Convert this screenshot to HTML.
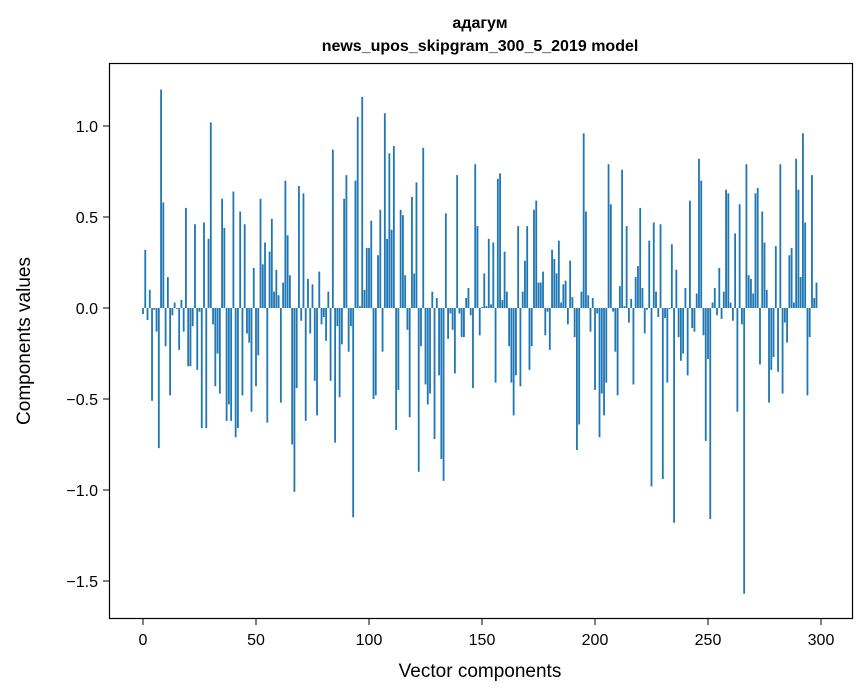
<!DOCTYPE html>
<html><head><meta charset="utf-8"><style>
body{margin:0;background:#fff;}
svg{display:block;font-family:"Liberation Sans","DejaVu Sans",sans-serif;}
</style></head><body>
<svg id="chart" width="867" height="696" viewBox="0 0 867 696">
<rect width="867" height="696" fill="#fff"/>
<text x="480" y="28" text-anchor="middle" font-size="16" font-weight="bold">адагум</text>
<text x="480" y="51" text-anchor="middle" font-size="16" font-weight="bold">news_upos_skipgram_300_5_2019 model</text>
<g id="bars"></g>
<rect x="109.5" y="63.5" width="743" height="555" fill="none" stroke="#000" stroke-width="1.2"/>
<g id="xticks"></g>
<g id="yticks"></g>
<text x="480" y="677" text-anchor="middle" font-size="19">Vector components</text>
<text transform="translate(30,341) rotate(-90)" text-anchor="middle" font-size="19">Components values</text>
</svg>
<script>
const values = [-0.033,0.32,-0.066,0.10,-0.51,-0.01,-0.13,-0.77,1.20,0.58,
-0.21,0.17,-0.48,-0.04,0.03,-0.005,-0.23,0.044,-0.13,0.55,
-0.32,-0.32,-0.10,0.46,-0.34,-0.02,-0.66,0.47,-0.66,0.38,
1.02,-0.09,-0.43,-0.25,-0.47,0.60,0.44,-0.62,-0.53,-0.62,
0.64,-0.71,-0.66,0.53,-0.48,0.46,-0.14,-0.19,-0.57,0.22,
-0.43,-0.26,0.60,0.24,0.36,-0.63,0.31,0.49,0.09,0.21,
0.07,-0.52,0.14,0.70,0.40,0.18,-0.75,-1.01,-0.44,0.67,
-0.07,0.63,-0.62,0.16,-0.14,0.13,-0.40,-0.59,0.20,-0.09,
-0.05,-0.18,0.09,-0.40,0.87,-0.74,-0.10,-0.49,-0.20,0.60,
0.73,-0.24,-0.10,-1.15,0.70,1.05,0.01,1.16,0.10,0.33,
0.33,0.48,-0.50,-0.48,0.29,0.54,-0.24,1.07,0.38,0.85,
0.43,0.89,-0.67,-0.45,0.54,0.51,0.18,-0.12,-0.60,0.61,
0.19,0.69,-0.90,-0.21,0.88,-0.42,-0.53,-0.47,0.09,-0.72,
0.055,-0.37,-0.83,-0.95,0.52,-0.17,-0.03,-0.12,-0.36,0.73,
-0.03,-0.16,-0.16,0.055,0.11,-0.04,-0.44,0.79,0.45,-0.15,
0.005,0.19,0.01,0.38,0.02,0.36,-0.41,0.71,0.74,0.044,
0.31,0.09,-0.21,-0.41,-0.59,-0.37,0.45,-0.43,0.09,0.26,
0.45,-0.34,-0.21,0.54,0.59,0.14,0.14,0.20,-0.15,-0.02,
-0.23,0.32,0.27,0.19,0.37,0.03,0.13,0.15,-0.09,0.26,
0.06,-0.16,-0.78,-0.64,0.09,0.96,0.53,0.07,-0.13,0.055,
-0.45,-0.03,-0.71,-0.47,-0.59,-0.41,0.79,0.57,-0.02,-0.24,
-0.48,0.12,0.76,0.01,0.45,-0.08,0.05,-0.42,0.17,0.23,
0.55,0.11,-0.14,-0.01,0.37,-0.98,0.47,0.09,-0.05,0.46,
-0.94,-0.055,-0.41,-0.005,0.35,-1.18,0.21,-0.16,-0.29,-0.25,
0.11,-0.37,0.59,-0.11,-0.13,0.08,0.82,0.70,-0.15,-0.73,
-0.28,-1.16,0.03,0.11,-0.04,0.22,-0.06,0.09,0.65,0.63,
0.03,-0.07,0.41,-0.57,0.57,-0.09,-1.57,0.79,0.18,0.16,
0.08,0.63,0.66,-0.31,0.53,0.36,0.10,-0.52,-0.34,-0.27,
0.34,-0.35,0.79,-0.47,-0.08,-0.19,0.29,0.33,0.03,0.82,
0.65,0.17,0.96,0.47,-0.48,-0.16,0.73,0.055,0.14];
const xTickValues = [0,50,100,150,200,250,300];
const yTickValues = [-1.5,-1.0,-0.5,0.0,0.5,1.0];
const yTickLabels = ["−1.5","−1.0","−0.5","0.0","0.5","1.0"];

const NS="http://www.w3.org/2000/svg";
function xs(v){return 143+v*2.26;}
function ys(v){return 308-v*182;}
const bw=2.26*0.8;
const bars=document.getElementById('bars');
values.forEach((v,i)=>{
  const r=document.createElementNS(NS,'rect');
  const y0=ys(0),y1=ys(v);
  r.setAttribute('x',xs(i)-bw/2);
  r.setAttribute('y',Math.min(y0,y1));
  r.setAttribute('width',bw);
  r.setAttribute('height',Math.max(Math.abs(y1-y0),0.3));
  r.setAttribute('fill','#1f77b4');
  
  
  bars.appendChild(r);
});
const xg=document.getElementById('xticks');
xTickValues.forEach(v=>{
  const l=document.createElementNS(NS,'line');
  l.setAttribute('x1',xs(v));l.setAttribute('x2',xs(v));
  l.setAttribute('y1',619);l.setAttribute('y2',625);
  l.setAttribute('stroke','#000');
  
  
  xg.appendChild(l);
  const t=document.createElementNS(NS,'text');
  t.setAttribute('x',xs(v));t.setAttribute('y',645);
  t.setAttribute('text-anchor','middle');t.setAttribute('font-size','16');
  t.textContent=String(v);
  
  
  xg.appendChild(t);
});
const yg=document.getElementById('yticks');
yTickValues.forEach((v,k)=>{
  const l=document.createElementNS(NS,'line');
  l.setAttribute('x1',103);l.setAttribute('x2',109);
  l.setAttribute('y1',ys(v));l.setAttribute('y2',ys(v));
  l.setAttribute('stroke','#000');
  
  
  yg.appendChild(l);
  const t=document.createElementNS(NS,'text');
  t.setAttribute('x',98);t.setAttribute('y',ys(v)+6);
  t.setAttribute('text-anchor','end');t.setAttribute('font-size','16');
  t.textContent=yTickLabels[k];
  
  
  yg.appendChild(t);
});
</script>
</body></html>
